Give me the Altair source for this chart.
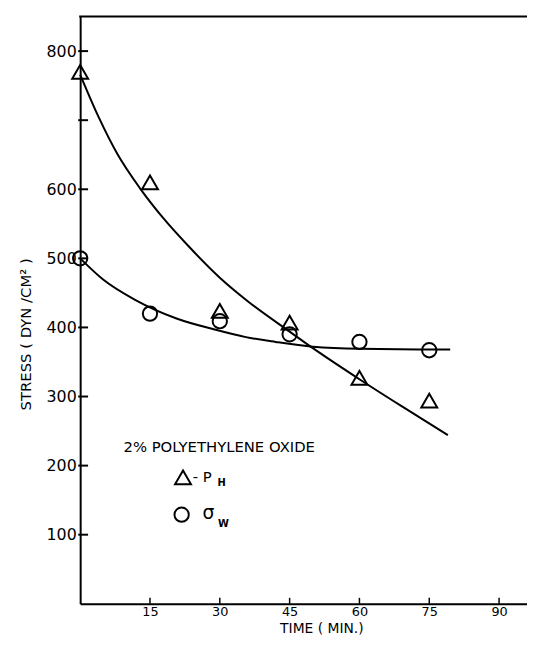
import altair as alt
import pandas as pd

# ---- data ----
time_min = [0, 15, 30, 45, 60, 75]
p_h = [770, 610, 424, 407, 327, 294]          # triangles
sigma_w = [500, 420, 409, 390, 379, 367]      # circles

curve_ph_t = [0, 4, 8, 12.9, 18, 23.5, 30, 36, 45, 50, 60, 70, 79]
curve_ph_v = [766, 704, 651, 601, 557, 516, 472, 438, 394, 370, 325, 282, 244]
curve_sw_t = [0, 5, 11.8, 20.7, 28.9, 35.6, 42, 50, 60, 79.5]
curve_sw_v = [500, 469, 440, 413, 397, 386, 379, 372, 369, 368]

y_label_ticks = [100, 200, 300, 400, 500, 600, 800]
y_all_ticks = [100, 200, 300, 400, 500, 600, 700, 800]
x_ticks = [15, 30, 45, 60, 75, 90]

legend_title = "2% POLYETHYLENE OXIDE"

# ---- layout ----
W, H = 452, 594
FONT = "DejaVu Sans"

xs = alt.Scale(domain=[0, 96], nice=False, zero=False)
ys = alt.Scale(domain=[0, 850], nice=False, zero=False)

pts = pd.DataFrame({
    "t": time_min * 2,
    "v": p_h + sigma_w,
    "s": ["P"] * 6 + ["S"] * 6,
})
curves = pd.DataFrame({
    "t": curve_ph_t + curve_sw_t,
    "v": curve_ph_v + curve_sw_v,
    "s": ["P"] * len(curve_ph_t) + ["S"] * len(curve_sw_t),
})

lines = alt.Chart(curves).mark_line(
    color="black", strokeWidth=2, interpolate="monotone"
).encode(
    x=alt.X("t:Q", scale=xs, axis=alt.Axis(
        values=x_ticks, title="TIME ( MIN.)", ticks=False, grid=False,
        domainColor="black", domainWidth=2, labelFont=FONT, labelFontSize=13,
        labelColor="black", labelPadding=2, titleFont=FONT, titleFontSize=14,
        titleFontWeight="normal", titleColor="black", titleX=244, titleY=25,
        titleBaseline="middle", titleAnchor="start", titleAlign="center")),
    y=alt.Y("v:Q", scale=ys, axis=alt.Axis(
        values=y_label_ticks, title="STRESS ( DYN /CM² )", ticks=False, grid=False,
        domainColor="black", domainWidth=2, labelFont=FONT, labelFontSize=16,
        labelColor="black", labelPadding=4, titleFont=FONT, titleFontSize=15,
        titleFontWeight="normal", titleColor="black", titleX=-55, titleY=321,
        titleBaseline="middle", titleAlign="center", titleAngle=-90)),
    detail="s:N",
)

tri = alt.Chart(pts[pts.s == "P"]).mark_point(
    shape="triangle-up", size=260, filled=False, color="black", strokeWidth=2, opacity=1
).encode(x=alt.X("t:Q", scale=xs), y=alt.Y("v:Q", scale=ys))

circ = alt.Chart(pts[pts.s == "S"]).mark_point(
    shape="circle", size=210, filled=False, color="black", strokeWidth=2, opacity=1
).encode(x=alt.X("t:Q", scale=xs), y=alt.Y("v:Q", scale=ys))

ytick_rules = alt.Chart(pd.DataFrame({"v": y_all_ticks})).mark_rule(
    color="black", strokeWidth=2
).encode(y=alt.Y("v:Q", scale=ys), x=alt.value(-2), x2=alt.value(8))

xtick_rules = alt.Chart(pd.DataFrame({"t": x_ticks})).mark_rule(
    color="black", strokeWidth=1.5
).encode(x=alt.X("t:Q", scale=xs), y=alt.value(H), y2=alt.value(H - 6))

top_rule = alt.Chart(pd.DataFrame({"a": [0]})).mark_rule(
    color="black", strokeWidth=2
).encode(x=alt.value(-1), x2=alt.value(W), y=alt.value(0))

# legend annotation (positions in data units)
leg_text = alt.Chart(pd.DataFrame({"t": [9.3], "v": [227], "txt": [legend_title]})).mark_text(
    align="left", baseline="middle", font=FONT, fontSize=15, color="black"
).encode(x=alt.X("t:Q", scale=xs), y=alt.Y("v:Q", scale=ys), text="txt:N")

leg_tri = alt.Chart(pd.DataFrame({"t": [22.1], "v": [183]})).mark_point(
    shape="triangle-up", size=260, filled=False, color="black", strokeWidth=2, opacity=1
).encode(x=alt.X("t:Q", scale=xs), y=alt.Y("v:Q", scale=ys))

leg_circ = alt.Chart(pd.DataFrame({"t": [21.8], "v": [129]})).mark_point(
    shape="circle", size=210, filled=False, color="black", strokeWidth=2, opacity=1
).encode(x=alt.X("t:Q", scale=xs), y=alt.Y("v:Q", scale=ys))

leg_dash = alt.Chart(pd.DataFrame({"t": [24.2], "v": [184], "txt": ["- P"]})).mark_text(
    align="left", baseline="middle", font=FONT, fontSize=15, color="black"
).encode(x=alt.X("t:Q", scale=xs), y=alt.Y("v:Q", scale=ys), text="txt:N")

leg_sigma = alt.Chart(pd.DataFrame({"t": [26.3], "v": [131], "txt": ["σ"]})).mark_text(
    align="left", baseline="middle", font=FONT, fontSize=19, color="black"
).encode(x=alt.X("t:Q", scale=xs), y=alt.Y("v:Q", scale=ys), text="txt:N")

leg_sub = alt.Chart(pd.DataFrame({"t": [29.5, 29.6], "v": [175, 115], "txt": ["H", "W"]})).mark_text(
    align="left", baseline="middle", font=FONT, fontSize=10, fontWeight="bold", color="black"
).encode(x=alt.X("t:Q", scale=xs), y=alt.Y("v:Q", scale=ys), text="txt:N")

chart = alt.layer(
    lines, tri, circ, ytick_rules, xtick_rules, top_rule,
    leg_text, leg_tri, leg_circ, leg_dash, leg_sigma, leg_sub
).properties(
    width=W, height=H,
    autosize=alt.AutoSizeParams(type="none"),
    padding={"left": 73, "top": 5, "right": 0, "bottom": 34},
).configure(background="white").configure_view(stroke=None)

chart.save("out.html", embed_options={"renderer": "svg", "actions": False})
